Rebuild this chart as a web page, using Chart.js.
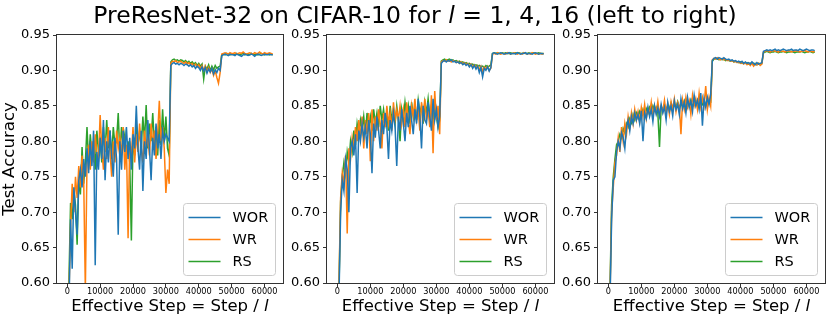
<!DOCTYPE html>
<html><head><meta charset="utf-8">
<script src="https://cdn.jsdelivr.net/npm/chart.js@4.4.1/dist/chart.umd.min.js"></script>
<style>
html,body{margin:0;padding:0;background:#fff;}
#wrap{position:relative;width:830px;height:324px;overflow:hidden;font-family:'DejaVu Sans';}
#title{position:absolute;left:0;top:1px;width:830px;text-align:center;font-size:23.5px;line-height:28px;color:#000;white-space:nowrap;z-index:5;}
canvas{position:absolute;top:0;}
</style></head><body>
<div id="wrap">
<canvas id="c1" width="290" height="324" style="left:0px"></canvas>
<canvas id="c2" width="270" height="324" style="left:290px"></canvas>
<canvas id="c3" width="270" height="324" style="left:560px"></canvas>
<div id="title">PreResNet-32 on CIFAR-10 for <i>l</i> = 1, 4, 16 (left to right)</div>
</div>
<script>
const steps = [0,500,1000,1500,2000,2500,3000,3500,4000,4500,
5000,5500,6000,6500,7000,7500,8000,8500,9000,9500,
10000,10500,11000,11500,12000,12500,13000,13500,14000,14500,
15000,15500,16000,16500,17000,17500,18000,18500,19000,19500,
20000,20500,21000,21500,22000,22500,23000,23500,24000,24500,
25000,25500,26000,26500,27000,27500,28000,28500,29000,29500,
30000,30500,31000,31500,32000,32500,33000,33500,34000,34500,
35000,35500,36000,36500,37000,37500,38000,38500,39000,39500,
40000,40500,41000,41500,42000,42500,43000,43500,44000,44500,
45000,45500,46000,46500,47000,47500,48000,48500,49000,49500,
50000,50500,51000,51500,52000,52500,53000,53500,54000,54500,
55000,55500,56000,56500,57000,57500,58000,58500,59000,59500,
60000,60500,61000,61500,62000,62500];

const seriesNames = ['WOR','WR','RS'];
const xTicks = [0,10000,20000,30000,40000,50000,60000];
const yTicks = [0.60,0.65,0.70,0.75,0.80,0.85,0.90,0.95];

// l = 1
const wor1 = [0.100,0.560,0.690,0.620,0.735,0.700,0.668,0.745,0.760,0.735,
0.775,0.750,0.790,0.755,0.800,0.765,0.815,0.625,0.785,0.760,
0.805,0.775,0.830,0.745,0.800,0.770,0.815,0.780,0.750,0.805,
0.775,0.668,0.800,0.760,0.815,0.785,0.820,0.775,0.805,0.760,
0.810,0.790,0.850,0.790,0.760,0.815,0.730,0.800,0.775,0.830,
0.790,0.745,0.805,0.780,0.825,0.790,0.810,0.775,0.815,0.800,
0.810,0.805,0.800,0.907,0.910,0.911,0.909,0.910,0.908,0.910,
0.909,0.907,0.909,0.908,0.906,0.908,0.905,0.907,0.903,0.906,
0.904,0.900,0.905,0.899,0.904,0.896,0.902,0.898,0.903,0.895,
0.901,0.897,0.903,0.900,0.921,0.922,0.923,0.922,0.921,0.923,
0.922,0.922,0.921,0.923,0.922,0.921,0.920,0.922,0.923,0.922,
0.921,0.922,0.923,0.922,0.920,0.922,0.923,0.922,0.921,0.922,
0.923,0.922,0.922,0.923,0.922,0.922];
const wr1 = [0.100,0.580,0.680,0.740,0.700,0.750,0.720,0.765,0.735,0.780,
0.745,0.590,0.770,0.795,0.760,0.800,0.770,0.810,0.780,0.775,
0.837,0.790,0.760,0.805,0.775,0.820,0.785,0.750,0.800,0.770,
0.815,0.790,0.805,0.780,0.820,0.760,0.795,0.663,0.800,0.780,
0.820,0.770,0.810,0.785,0.825,0.790,0.770,0.815,0.790,0.805,
0.780,0.825,0.795,0.815,0.775,0.810,0.857,0.800,0.820,0.790,
0.727,0.760,0.740,0.910,0.913,0.912,0.914,0.911,0.912,0.913,
0.911,0.910,0.912,0.909,0.911,0.908,0.910,0.906,0.909,0.905,
0.908,0.903,0.907,0.900,0.906,0.898,0.904,0.897,0.902,0.893,
0.900,0.890,0.882,0.897,0.923,0.924,0.925,0.924,0.923,0.925,
0.924,0.924,0.925,0.923,0.924,0.925,0.924,0.926,0.924,0.923,
0.924,0.925,0.924,0.923,0.925,0.924,0.924,0.926,0.924,0.923,
0.925,0.924,0.924,0.925,0.924,0.923];
const rs1 = [0.100,0.600,0.713,0.690,0.730,0.710,0.654,0.745,0.725,0.792,
0.740,0.770,0.820,0.770,0.810,0.780,0.800,0.760,0.815,0.785,
0.800,0.770,0.820,0.785,0.830,0.790,0.815,0.775,0.820,0.795,
0.800,0.840,0.780,0.820,0.795,0.810,0.780,0.800,0.770,0.660,
0.805,0.780,0.825,0.795,0.815,0.790,0.835,0.800,0.851,0.790,
0.825,0.800,0.840,0.795,0.820,0.780,0.830,0.795,0.845,0.800,
0.835,0.790,0.780,0.912,0.915,0.916,0.914,0.915,0.913,0.915,
0.914,0.912,0.914,0.911,0.913,0.910,0.912,0.909,0.911,0.907,
0.910,0.906,0.909,0.888,0.906,0.902,0.908,0.900,0.906,0.901,
0.907,0.903,0.905,0.906,0.922,0.923,0.922,0.924,0.923,0.922,
0.923,0.923,0.922,0.924,0.923,0.922,0.923,0.924,0.922,0.923,
0.923,0.922,0.924,0.923,0.922,0.923,0.922,0.923,0.924,0.923,
0.922,0.923,0.923,0.922,0.923,0.922];

// l = 4
const wor2 = [0.100,0.580,0.700,0.745,0.730,0.775,0.760,0.700,0.790,0.800,
0.780,0.810,0.727,0.815,0.800,0.825,0.805,0.820,0.790,0.830,
0.810,0.755,0.825,0.805,0.835,0.815,0.790,0.830,0.810,0.840,
0.820,0.775,0.830,0.815,0.840,0.820,0.765,0.835,0.815,0.845,
0.825,0.800,0.840,0.820,0.850,0.830,0.810,0.845,0.825,0.860,
0.835,0.790,0.850,0.830,0.825,0.855,0.835,0.815,0.860,0.830,
0.845,0.820,0.835,0.910,0.913,0.914,0.912,0.914,0.913,0.915,
0.912,0.913,0.911,0.912,0.910,0.911,0.908,0.910,0.907,0.909,
0.905,0.908,0.903,0.907,0.902,0.906,0.897,0.904,0.891,0.903,
0.900,0.905,0.899,0.904,0.924,0.925,0.924,0.923,0.924,0.925,
0.924,0.923,0.924,0.924,0.925,0.923,0.924,0.924,0.923,0.925,
0.924,0.923,0.924,0.924,0.925,0.923,0.924,0.924,0.923,0.924,
0.925,0.924,0.923,0.924,0.924,0.923];
const wr2 = [0.100,0.600,0.720,0.755,0.740,0.780,0.670,0.790,0.775,0.805,
0.790,0.820,0.800,0.830,0.805,0.835,0.790,0.830,0.810,0.840,
0.772,0.845,0.800,0.835,0.815,0.845,0.825,0.790,0.840,0.820,
0.850,0.825,0.840,0.815,0.855,0.830,0.845,0.830,0.850,0.825,
0.845,0.820,0.855,0.830,0.810,0.850,0.835,0.860,0.830,0.845,
0.815,0.855,0.835,0.860,0.830,0.845,0.820,0.865,0.783,0.871,
0.830,0.850,0.810,0.912,0.914,0.913,0.915,0.913,0.914,0.912,
0.914,0.913,0.911,0.913,0.910,0.912,0.909,0.911,0.908,0.910,
0.906,0.909,0.905,0.908,0.904,0.907,0.901,0.906,0.899,0.905,
0.902,0.906,0.900,0.903,0.923,0.924,0.923,0.925,0.924,0.923,
0.924,0.924,0.923,0.925,0.924,0.923,0.924,0.925,0.924,0.923,
0.924,0.924,0.923,0.925,0.924,0.923,0.924,0.923,0.925,0.924,
0.923,0.924,0.923,0.924,0.923,0.924];
const rs2 = [0.100,0.590,0.715,0.750,0.770,0.755,0.785,0.770,0.800,0.785,
0.815,0.795,0.825,0.810,0.830,0.815,0.835,0.810,0.840,0.820,
0.835,0.815,0.845,0.825,0.840,0.820,0.850,0.830,0.845,0.825,
0.840,0.815,0.850,0.830,0.845,0.825,0.850,0.830,0.800,0.845,
0.830,0.855,0.835,0.850,0.825,0.855,0.835,0.850,0.830,0.858,
0.840,0.850,0.825,0.855,0.840,0.860,0.835,0.850,0.830,0.855,
0.835,0.820,0.830,0.913,0.915,0.916,0.914,0.915,0.916,0.914,
0.915,0.913,0.914,0.912,0.913,0.911,0.912,0.910,0.911,0.909,
0.910,0.908,0.909,0.907,0.908,0.906,0.907,0.905,0.906,0.904,
0.907,0.905,0.906,0.908,0.924,0.925,0.924,0.925,0.924,0.924,
0.925,0.924,0.925,0.924,0.924,0.925,0.924,0.924,0.925,0.924,
0.925,0.924,0.924,0.925,0.924,0.924,0.925,0.924,0.924,0.925,
0.924,0.924,0.925,0.924,0.924,0.924];

// l = 16
const wor3 = [0.100,0.570,0.690,0.745,0.750,0.785,0.800,0.790,0.812,0.805,
0.790,0.820,0.830,0.815,0.835,0.825,0.840,0.830,0.838,0.825,
0.843,0.800,0.840,0.832,0.848,0.835,0.845,0.828,0.850,0.838,
0.847,0.835,0.852,0.840,0.848,0.830,0.855,0.842,0.850,0.836,
0.857,0.845,0.852,0.838,0.860,0.846,0.855,0.840,0.862,0.848,
0.857,0.842,0.865,0.850,0.858,0.845,0.868,0.822,0.860,0.848,
0.862,0.852,0.866,0.914,0.917,0.918,0.916,0.918,0.917,0.916,
0.918,0.916,0.915,0.916,0.914,0.915,0.913,0.914,0.912,0.913,
0.911,0.913,0.910,0.912,0.910,0.911,0.909,0.912,0.910,0.908,
0.911,0.909,0.910,0.911,0.927,0.928,0.929,0.928,0.929,0.928,
0.929,0.930,0.928,0.929,0.928,0.929,0.930,0.929,0.928,0.929,
0.929,0.930,0.928,0.929,0.929,0.928,0.930,0.929,0.928,0.929,
0.930,0.929,0.928,0.929,0.929,0.928];
const wr3 = [0.100,0.580,0.700,0.735,0.770,0.780,0.805,0.785,0.820,0.800,
0.825,0.810,0.835,0.820,0.840,0.825,0.845,0.830,0.842,0.828,
0.848,0.835,0.852,0.832,0.846,0.838,0.855,0.835,0.850,0.840,
0.856,0.838,0.850,0.842,0.858,0.840,0.853,0.838,0.856,0.845,
0.860,0.842,0.855,0.850,0.810,0.858,0.845,0.862,0.848,0.857,
0.838,0.865,0.850,0.860,0.845,0.868,0.848,0.862,0.850,0.878,
0.845,0.862,0.850,0.915,0.917,0.916,0.918,0.916,0.915,0.917,
0.915,0.916,0.914,0.915,0.913,0.914,0.912,0.913,0.911,0.912,
0.910,0.911,0.909,0.911,0.908,0.910,0.907,0.910,0.906,0.909,
0.908,0.910,0.907,0.909,0.926,0.927,0.928,0.927,0.926,0.927,
0.928,0.927,0.927,0.926,0.928,0.927,0.927,0.926,0.927,0.928,
0.927,0.926,0.927,0.927,0.928,0.927,0.926,0.927,0.927,0.928,
0.927,0.926,0.927,0.927,0.926,0.927];
const rs3 = [0.100,0.590,0.710,0.750,0.775,0.795,0.800,0.810,0.805,0.818,
0.812,0.825,0.820,0.832,0.826,0.838,0.830,0.840,0.833,0.842,
0.836,0.845,0.838,0.846,0.840,0.848,0.842,0.850,0.843,0.848,
0.840,0.792,0.848,0.845,0.852,0.844,0.850,0.846,0.854,0.845,
0.852,0.848,0.856,0.846,0.853,0.849,0.857,0.848,0.854,0.850,
0.858,0.849,0.855,0.851,0.858,0.850,0.856,0.852,0.859,0.850,
0.857,0.853,0.855,0.913,0.916,0.917,0.916,0.915,0.916,0.915,
0.916,0.914,0.915,0.914,0.913,0.914,0.912,0.913,0.912,0.911,
0.912,0.910,0.911,0.910,0.911,0.909,0.910,0.911,0.909,0.910,
0.908,0.910,0.909,0.910,0.925,0.926,0.927,0.926,0.925,0.926,
0.926,0.927,0.926,0.925,0.926,0.926,0.927,0.926,0.925,0.926,
0.926,0.927,0.926,0.925,0.926,0.926,0.926,0.927,0.926,0.925,
0.926,0.926,0.927,0.926,0.925,0.926];

const colors = ['#1f77b4','#ff7f0e','#2ca02c'];
const FONT = "'DejaVu Sans'";
Chart.defaults.font.family = FONT;
Chart.defaults.color = '#000';

const decor = {
  id: 'decor',
  afterDatasetsDraw(chart) {
    const {ctx, chartArea: a} = chart;
    ctx.save();
    // frame
    ctx.strokeStyle = '#333';
    ctx.lineWidth = 1;
    const l = Math.round(a.left) - 0.5, t = Math.round(a.top) - 0.5;
    const r = Math.round(a.right) + 0.5, b = Math.round(a.bottom) + 0.5;
    ctx.strokeRect(l, t, r - l, b - t);
    // legend
    const bw = 92, bh = 72;
    const bx = Math.round(a.right) - 8 - bw + 0.5, by = Math.round(a.bottom) - 8 - bh + 0.5;
    ctx.beginPath();
    if (ctx.roundRect) ctx.roundRect(bx, by, bw, bh, 3); else ctx.rect(bx, by, bw, bh);
    ctx.fillStyle = 'rgba(255,255,255,0.8)';
    ctx.fill();
    ctx.strokeStyle = '#cccccc';
    ctx.stroke();
    chart.data.datasets.forEach((ds, i) => {
      const cy = by + 14 + 22 * i;
      ctx.beginPath();
      ctx.strokeStyle = ds.borderColor;
      ctx.lineWidth = 1.5;
      ctx.moveTo(bx + 5, cy);
      ctx.lineTo(bx + 37, cy);
      ctx.stroke();
      ctx.fillStyle = '#000';
      ctx.font = '14.5px ' + FONT;
      ctx.textBaseline = 'middle';
      ctx.textAlign = 'left';
      ctx.fillText(ds.label, bx + 49, cy + 1);
    });
    // x axis title with italic l
    const p1 = 'Effective Step = Step / ', p2 = 'l';
    ctx.font = '16.5px ' + FONT;
    const w1 = ctx.measureText(p1).width;
    ctx.font = 'italic 16.5px ' + FONT;
    const w2 = ctx.measureText(p2).width;
    const cx = (a.left + a.right) / 2;
    const sx = cx - (w1 + w2) / 2;
    ctx.textBaseline = 'alphabetic';
    ctx.textAlign = 'left';
    ctx.fillStyle = '#000';
    ctx.font = '16.5px ' + FONT;
    ctx.fillText(p1, sx, 311);
    ctx.font = 'italic 16.5px ' + FONT;
    ctx.fillText(p2, sx + w1, 311);
    ctx.restore();
  }
};

const panels = [
  {id: 'c1', data: [wor1, wr1, rs1], yWidth: 57, padRight: 7, yTitle: true},
  {id: 'c2', data: [wor2, wr2, rs2], yWidth: 37, padRight: 6, yTitle: false},
  {id: 'c3', data: [wor3, wr3, rs3], yWidth: 38, padRight: 5, yTitle: false}
];

panels.forEach(p => {
  new Chart(document.getElementById(p.id), {
    type: 'line',
    data: {
      datasets: p.data.map((vals, k) => ({
        label: seriesNames[k],
        data: vals.map((v, i) => ({x: steps[i], y: v})),
        borderColor: colors[k],
        backgroundColor: colors[k],
        borderWidth: 1.5,
        pointRadius: 0,
        tension: 0,
        fill: false
      }))
    },
    options: {
      responsive: false,
      animation: false,
      devicePixelRatio: 1,
      layout: {padding: {top: 35, right: p.padRight, bottom: 0, left: 0}},
      plugins: {legend: {display: false}, tooltip: {enabled: false}},
      scales: {
        x: {
          type: 'linear',
          min: -3125, max: 65625,
          afterBuildTicks: s => { s.ticks = xTicks.map(v => ({value: v})); },
          afterFit: s => { s.height = 41; },
          grid: {drawOnChartArea: false, drawTicks: true, tickLength: 4, tickColor: '#333', tickWidth: 1},
          border: {display: false},
          ticks: {autoSkip: false, maxRotation: 0, padding: 0, font: {size: 8.2}, color: '#000',
                  callback: v => String(v)}
        },
        y: {
          min: 0.6, max: 0.95,
          afterBuildTicks: s => { s.ticks = yTicks.map(v => ({value: v})); },
          afterFit: s => { s.width = p.yWidth; },
          grid: {drawOnChartArea: false, drawTicks: true, tickLength: 4, tickColor: '#333', tickWidth: 1},
          border: {display: false},
          ticks: {padding: 3, font: {size: 13}, color: '#000', callback: v => Number(v).toFixed(2)},
          title: {display: p.yTitle, text: 'Test Accuracy', font: {size: 16.6}, color: '#000', padding: {top: 0, bottom: 0}}
        }
      }
    },
    plugins: [decor]
  });
});
</script>
</body></html>
